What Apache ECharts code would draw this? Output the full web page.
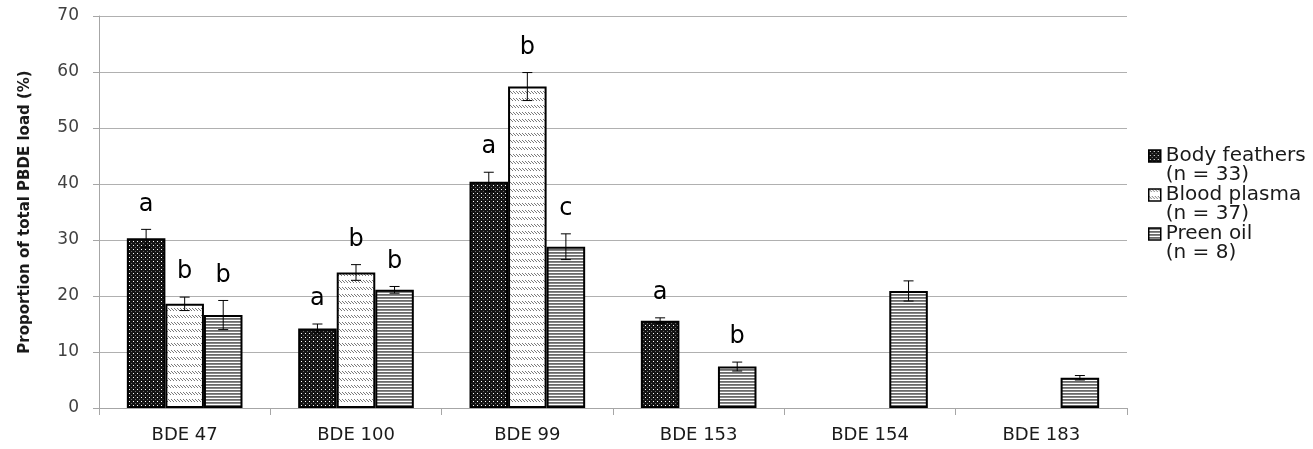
<!DOCTYPE html>
<html>
<head>
<meta charset="utf-8">
<script src="https://cdn.jsdelivr.net/npm/echarts@6/dist/echarts.min.js"></script>
<style>
  html, body { margin: 0; padding: 0; background: #fff; }
  #chart { width: 1313px; height: 449px; }
</style>
</head>
<body>
<div id="chart"></div>
<script>
// Congeners on the category axis
const categories = ['BDE 47', 'BDE 100', 'BDE 99', 'BDE 153', 'BDE 154', 'BDE 183'];
const yTicks = [0, 10, 20, 30, 40, 50, 60, 70];

// Mean share of total PBDE load (%) per tissue
const bodyFeathers = [30.3, 14.2, 40.4, 15.6, null, null];
const bloodPlasma  = [18.6, 24.2, 57.4, null, null, null];
const preenOil     = [16.6, 21.1, 28.8, 7.4, 20.9, 5.4];

// Standard errors
const bodyFeathersErr = [1.6, 0.8, 1.7, 0.5, null, null];
const bloodPlasmaErr  = [1.2, 1.4, 2.5, null, null, null];
const preenOilErr     = [2.6, 0.6, 2.3, 0.8, 1.8, 0.4];

// Significance letters
const bodyFeathersSig = ['a', 'a', 'a', 'a', '', ''];
const bloodPlasmaSig  = ['b', 'b', 'b', '', '', ''];
const preenOilSig     = ['b', 'b', 'c', 'b', '', ''];

const seriesNames = ['Body feathers\n(n = 33)', 'Blood plasma\n(n = 37)', 'Preen oil\n(n = 8)'];

// Fill patterns drawn on small tiles
function tile(w, h, draw) {
  const c = document.createElement('canvas');
  c.width = w; c.height = h;
  const g = c.getContext('2d');
  draw(g);
  return { image: c, repeat: 'repeat' };
}
const dottedFill = tile(4, 4, g => {
  g.fillStyle = '#141414'; g.fillRect(0, 0, 4, 4);
  g.fillStyle = '#ffffff'; g.fillRect(1, 1, 1, 1);
  g.fillStyle = '#6a6a6a'; g.fillRect(3, 3, 1, 1);
});
const dashFill = tile(3, 7, g => {
  g.fillStyle = '#ffffff'; g.fillRect(0, 0, 3, 7);
  g.fillStyle = '#7a7a7a';
  g.fillRect(0, 0, 1, 1); g.fillRect(1, 1, 1, 1); g.fillRect(2, 2, 1, 1);
});
const stripeFill = tile(2, 3, g => {
  g.fillStyle = '#6a6a6a'; g.fillRect(0, 0, 2, 1);
  g.fillStyle = '#888888'; g.fillRect(0, 1, 2, 1);
  g.fillStyle = '#ffffff'; g.fillRect(0, 2, 2, 1);
});

const BAR_FRAC = 0.225;

function barSeries(name, values, fill) {
  return {
    type: 'bar',
    name: name,
    data: values,
    barWidth: (BAR_FRAC * 100) + '%',
    barGap: '0%',
    itemStyle: { color: fill, borderColor: '#000', borderWidth: 2 },
    emphasis: { disabled: true }
  };
}

// Error bars with caps, plus the significance letter above each one
function errorSeries(idx, values, errs, letters) {
  const data = [];
  values.forEach((v, j) => { if (v != null && errs[j] != null) data.push([j, v, errs[j]]); });
  return {
    type: 'custom',
    name: 'err' + idx,
    data: data,
    encode: { x: 0, y: 1 },
    z: 5,
    silent: true,
    renderItem(params, api) {
      const j = api.value(0), v = api.value(1), e = api.value(2);
      const band = api.size([1, 0])[0];
      const x = api.coord([j, 0])[0] + (idx - 1) * band * BAR_FRAC;
      const yHi = api.coord([j, v + e])[1];
      const yLo = api.coord([j, v - e])[1];
      const cap = 5;
      const st = { stroke: '#000', lineWidth: 1 };
      const children = [
        { type: 'line', shape: { x1: x, y1: yHi, x2: x, y2: yLo }, style: st },
        { type: 'line', shape: { x1: x - cap, y1: yHi, x2: x + cap, y2: yHi }, style: st },
        { type: 'line', shape: { x1: x - cap, y1: yLo, x2: x + cap, y2: yLo }, style: st }
      ];
      const letter = letters[j];
      if (letter) {
        children.push({
          type: 'text',
          style: {
            text: letter, x: x, y: yHi - 13,
            align: 'center', verticalAlign: 'bottom',
            font: '24px "DejaVu Sans"', fill: '#000'
          }
        });
      }
      return { type: 'group', children: children };
    }
  };
}

const chart = echarts.init(document.getElementById('chart'), null, { renderer: 'canvas' });
chart.setOption({
  animation: false,
  backgroundColor: '#fff',
  grid: { left: 99, right: 186, top: 16, bottom: 41, containLabel: false },
  legend: {
    orient: 'vertical',
    left: 1148,
    top: 127,
    padding: 0,
    icon: 'rect',
    itemWidth: 12,
    itemHeight: 12,
    itemGap: -19,
    selectedMode: false,
    data: seriesNames,
    // leading blank line keeps each swatch level with the first line of its label
    formatter: name => '\n' + name,
    itemStyle: { borderColor: '#000', borderWidth: 1.5 },
    textStyle: {
      fontFamily: 'DejaVu Sans', fontSize: 20, color: '#1a1a1a', lineHeight: 19
    }
  },
  xAxis: {
    type: 'category',
    data: categories,
    boundaryGap: true,
    axisLine: { lineStyle: { color: '#a6a6a6', width: 1 } },
    axisTick: { show: true, length: 7, lineStyle: { color: '#a6a6a6' } },
    axisLabel: { margin: 18, fontFamily: 'DejaVu Sans', fontSize: 18, color: '#1a1a1a' }
  },
  yAxis: {
    type: 'value',
    min: yTicks[0],
    max: yTicks[yTicks.length - 1],
    interval: 10,
    name: 'Proportion of total PBDE load (%)',
    nameLocation: 'middle',
    nameGap: 66,
    nameTextStyle: { fontFamily: 'DejaVu Sans', fontWeight: 'bold', fontSize: 15, color: '#1a1a1a' },
    axisLine: { show: true, lineStyle: { color: '#a6a6a6', width: 1 } },
    axisTick: { show: true, length: 6, lineStyle: { color: '#a6a6a6' } },
    axisLabel: { margin: 20, fontFamily: 'DejaVu Sans', fontSize: 17, color: '#404040' },
    splitLine: { lineStyle: { color: '#b0b0b0', width: 1 } }
  },
  series: [
    barSeries(seriesNames[0], bodyFeathers, dottedFill),
    barSeries(seriesNames[1], bloodPlasma, dashFill),
    barSeries(seriesNames[2], preenOil, stripeFill),
    errorSeries(0, bodyFeathers, bodyFeathersErr, bodyFeathersSig),
    errorSeries(1, bloodPlasma, bloodPlasmaErr, bloodPlasmaSig),
    errorSeries(2, preenOil, preenOilErr, preenOilSig)
  ]
});
</script>
</body>
</html>
